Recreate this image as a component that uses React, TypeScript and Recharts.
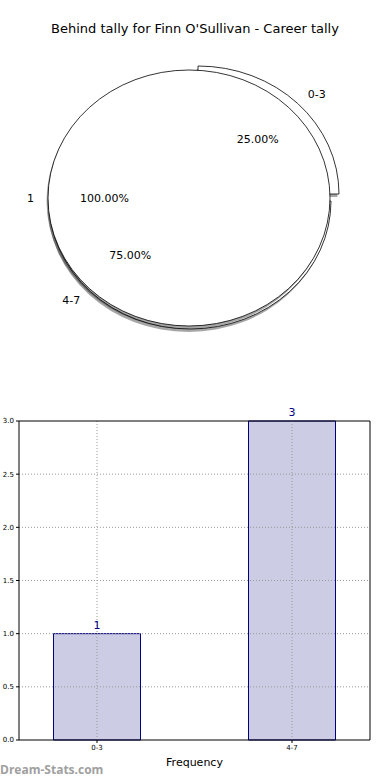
import { PieChart, Pie, BarChart, Bar, XAxis, YAxis, ReferenceLine, LabelList } from 'recharts';

// pie: the odd single "1" slice drawn on top of the 0-3 / 4-7 split
const pieOneLabels = ['1'];
const pieOneValues = [1];
const pieSplitLabels = ['0-3', '4-7'];
const pieSplitValues = [1, 3];

// bar chart
const barCategories = ['0-3', '4-7'];
const barValues = [1, 3];
const yTicks = [0, 0.5, 1, 1.5, 2, 2.5, 3];

const title = "Behind tally for Finn O'Sullivan - Career tally";

const pieOneData = pieOneLabels.map((name, i) => ({ name, value: pieOneValues[i] }));
const pieSplitData = pieSplitLabels.map((name, i) => ({ name, value: pieSplitValues[i] }));
const barData = barCategories.map((name, i) => ({ x: i, name, value: barValues[i] }));

const FONT = '"DejaVu Sans", sans-serif';
const Y_SCALE = 128 / 141; // matplotlib pie is squashed vertically
const OFFSETS: Record<string, [number, number]> = { '0-3': [9, -4], '4-7': [1, 3] };
const SHADOW: [number, number] = [-1.5, 3];

const RAD = Math.PI / 180;

function ellipsePath(cx: number, cy: number, r: number, start: number, end: number) {
  const rx = r;
  const ry = r * Y_SCALE;
  if (Math.abs(end - start) >= 359.9) {
    return `M ${cx - rx} ${cy} A ${rx} ${ry} 0 1 0 ${cx + rx} ${cy} A ${rx} ${ry} 0 1 0 ${cx - rx} ${cy} Z`;
  }
  const [x1, y1] = [cx + rx * Math.cos(start * RAD), cy - ry * Math.sin(start * RAD)];
  const [x2, y2] = [cx + rx * Math.cos(end * RAD), cy - ry * Math.sin(end * RAD)];
  const large = Math.abs(end - start) > 180 ? 1 : 0;
  return `M ${cx} ${cy} L ${x1} ${y1} A ${rx} ${ry} 0 ${large} 0 ${x2} ${y2} Z`;
}

const makeShape = (shadow: boolean) => (props: any) => {
  const { cx, cy, outerRadius, startAngle, endAngle, payload } = props;
  const name = payload?.name ?? props.name;
  const [ox, oy] = OFFSETS[name] ?? [0, 0];
  const [sx, sy] = shadow ? SHADOW : [0, 0];
  return (
    <path
      d={ellipsePath(cx + ox + sx, cy + oy + sy, outerRadius, startAngle, endAngle)}
      fill={shadow ? 'rgba(0,0,0,0.35)' : '#ffffff'}
      stroke={shadow ? 'none' : '#000'}
      strokeWidth={0.8}
    />
  );
};

const renderPieLabel = (props: any) => {
  const { cx, cy, outerRadius, midAngle, percent, name } = props;
  const [ox, oy] = OFFSETS[name] ?? [0, 0];
  const c = Math.cos(midAngle * RAD);
  const s = Math.sin(midAngle * RAD);
  const outX = cx + ox + 1.1 * outerRadius * c;
  const outY = cy + oy - 1.1 * outerRadius * Y_SCALE * s;
  const inX = cx + ox + 0.6 * outerRadius * c;
  const inY = cy + oy - 0.6 * outerRadius * Y_SCALE * s;
  return (
    <g key={name}>
      <text x={outX} y={outY} textAnchor={c < 0 ? 'end' : 'start'} dominantBaseline="central" fontSize={11} fontFamily={FONT} fill="#000">
        {name}
      </text>
      <text x={inX} y={inY} textAnchor="middle" dominantBaseline="central" fontSize={11} fontFamily={FONT} fill="#000">
        {(percent * 100).toFixed(2)}%
      </text>
    </g>
  );
};

const pieCommon = {
  dataKey: 'value',
  nameKey: 'name',
  cx: 189,
  cy: 198,
  outerRadius: 141,
  startAngle: 0,
  endAngle: 360,
  isAnimationActive: false,
  labelLine: false,
};

export default function App() {
  return (
    <div style={{ position: 'absolute', left: 0, top: 0, width: 390, height: 780, background: '#fff', fontFamily: FONT }}>
      <div style={{ position: 'absolute', top: 21, left: 0, width: 390, textAlign: 'center', fontSize: 13, color: '#000' }}>{title}</div>

      <div style={{ position: 'absolute', left: 0, top: 0 }}>
        <PieChart width={390} height={390} margin={{ top: 0, right: 0, bottom: 0, left: 0 }}>
          <Pie {...pieCommon} data={pieSplitData} shape={makeShape(true)} stroke="none" />
          <Pie {...pieCommon} data={pieSplitData} shape={makeShape(false)} />
          <Pie {...pieCommon} data={pieOneData} shape={makeShape(true)} stroke="none" />
          <Pie {...pieCommon} data={pieOneData} shape={makeShape(false)} />
          <Pie {...pieCommon} data={pieSplitData} fill="none" stroke="none" label={renderPieLabel} />
          <Pie {...pieCommon} data={pieOneData} fill="none" stroke="none" label={renderPieLabel} />
        </PieChart>
      </div>

      <div style={{ position: 'absolute', left: 0, top: 400 }}>
        <BarChart width={390} height={380} data={barData} margin={{ top: 21, right: 20, bottom: 0, left: 0 }}>
          <XAxis
            type="number"
            dataKey="x"
            domain={[-0.4, 1.4]}
            ticks={[0, 1]}
            tickFormatter={(i: number) => barCategories[i]}
            tick={{ fontSize: 7, fill: '#000', fontFamily: FONT }}
            tickSize={3}
            tickLine={{ stroke: '#000' }}
            axisLine={{ stroke: '#000' }}
            height={40}
            label={{ value: 'Frequency', position: 'insideBottom', offset: 14, fontSize: 11, fill: '#000', fontFamily: FONT }}
          />
          <YAxis
            type="number"
            domain={[0, 3]}
            ticks={yTicks}
            tickFormatter={(v: number) => v.toFixed(1)}
            tick={{ fontSize: 7, fill: '#000', fontFamily: FONT }}
            tickSize={3}
            tickLine={{ stroke: '#000' }}
            axisLine={{ stroke: '#000' }}
            width={19}
            interval={0}
          />
          <Bar dataKey="value" barSize={87} fill="#ccccE5" stroke="#000080" strokeWidth={1} isAnimationActive={false}>
            <LabelList dataKey="value" position="top" offset={5} fill="#000080" fontSize={11} fontFamily={FONT} />
          </Bar>
          {yTicks.slice(1, -1).map((v) => (
            <ReferenceLine key={'h' + v} y={v} stroke="#999" strokeDasharray="1 2" />
          ))}
          {barData.map((d) => (
            <ReferenceLine key={'v' + d.x} x={d.x} stroke="#999" strokeDasharray="1 2" />
          ))}
          <ReferenceLine y={3} stroke="#000" />
          <ReferenceLine x={1.4} stroke="#000" />
        </BarChart>
      </div>

      <div style={{ position: 'absolute', left: 0, top: 761, fontSize: 12, fontWeight: 700, color: '#a0a0a0', fontFamily: '"Open Sans", sans-serif' }}>
        Dream-Stats.com
      </div>
    </div>
  );
}
